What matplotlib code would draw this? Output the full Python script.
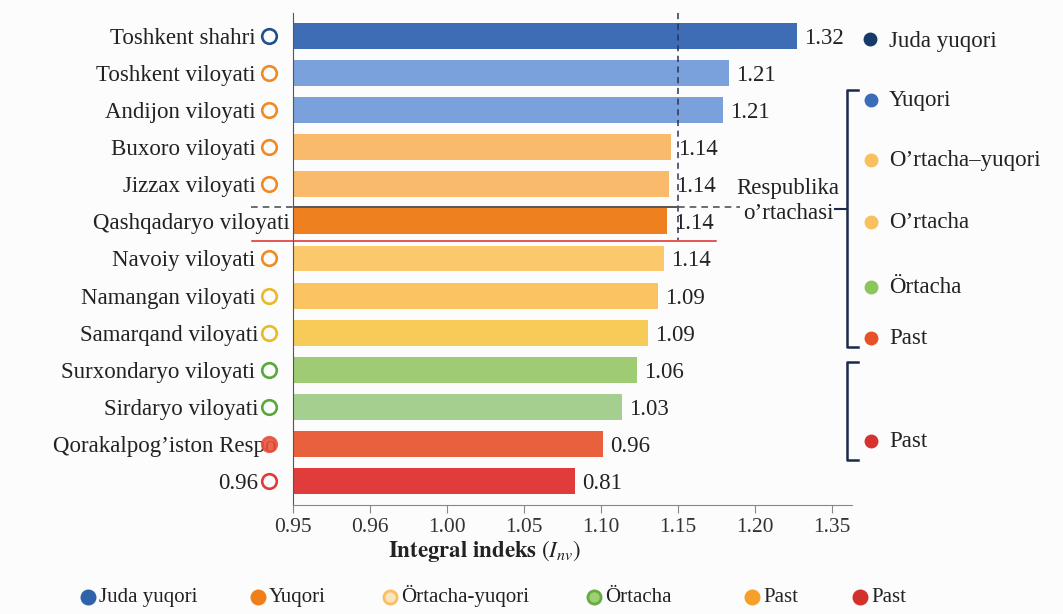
import matplotlib
matplotlib.use("Agg")
import matplotlib.pyplot as plt
from matplotlib.lines import Line2D

plt.rcParams['font.family'] = ['Liberation Serif', 'DejaVu Serif']
plt.rcParams['mathtext.fontset'] = 'stix'

# data
regions = ["Toshkent shahri", "Toshkent viloyati", "Andijon viloyati", "Buxoro viloyati",
           "Jizzax viloyati", "Qashqadaryo viloyati", "Navoiy viloyati", "Namangan viloyati",
           "Samarqand viloyati", "Surxondaryo viloyati", "Sirdaryo viloyati",
           "Qorakalpog\u2019iston Respo", "0.96"]
# bar length in axis units (one unit = one tick step)
bar_len = [6.55, 5.66, 5.58, 4.91, 4.88, 4.86, 4.82, 4.74, 4.61, 4.47, 4.27, 4.03, 3.66]
value_labels = ["1.32", "1.21", "1.21", "1.14", "1.14", "1.14", "1.14", "1.09", "1.09",
                "1.06", "1.03", "0.96", "0.81"]
bar_colors = ["#3f6db5", "#7ba1dc", "#7ba1dc", "#f9bb6b", "#f9bb6b", "#ef801f", "#fcc86c",
              "#fbc460", "#f6cb58", "#9ecb73", "#a5cf8f", "#e8603c", "#e03c3c"]
ring_colors = ["#1f4f8e", "#f08a24", "#f08a24", "#f08a24", "#f08a24", None, "#f08a24",
               "#e8b928", "#e8b928", "#5aa83c", "#5aa83c", "#e8503a", "#e03a3a"]
tick_labels = ["0.95", "0.96", "1.00", "1.05", "1.10", "1.15", "1.20", "1.35"]

side_names = ["Yuqori", "O\u2019rtacha\u2013yuqori", "O\u2019rtacha", "\u00d6rtacha", "Past", "Past"]
side_colors = ["#3b6cb7", "#f9c060", "#f9c060", "#8cc65a", "#e8502a", "#d93030"]
side_y = [100, 160, 222, 287, 338, 441]

legend_names = ["Juda yuqori", "Yuqori", "\u00d6rtacha-yuqori", "\u00d6rtacha", "Past", "Past"]
legend_fill = ["#2f62a8", "#f07f1a", "#fde4bc", "#9cd070", "#f5a02a", "#d4302a"]
legend_edge = ["#2f62a8", "#f07f1a", "#f8c060", "#6aaa44", "#f5a02a", "#d4302a"]
legend_x = [88, 258, 390, 594, 752, 860]

W, H = 1063, 614
fig = plt.figure(figsize=(W / 100, H / 100), dpi=100)
fig.patch.set_facecolor("#fcfcfd")

def px(x, y):
    return x / W, 1 - y / H

ax = fig.add_axes([293 / W, 1 - 505 / H, (852 - 293) / W, (505 - 13) / H])
ax.set_facecolor("none")

n = len(regions)
rows = list(range(n))
ax.barh(rows, bar_len, height=0.7, color=bar_colors, zorder=2)
ax.set_ylim(n - 1 + 0.647, -0.62)
ax.set_xlim(0, 7.26)

fs = 16.5
for i in rows:
    ax.annotate(value_labels[i], (bar_len[i], i), xytext=(5, 0), textcoords="offset points",
                va="center_baseline", ha="left", fontsize=fs, color="#222222", zorder=4)
    if i == 5:
        ax.text(-0.04, i, regions[i], ha="right", va="center_baseline", fontsize=fs,
                color="#222222")
        continue
    xe = -0.21 if i == 11 else (-0.45 if i in (8, 10, 12) else -0.49)
    ax.text(xe, i, regions[i], ha="right", va="center_baseline", fontsize=fs, color="#222222")
    filled = i == 11
    ax.plot([-0.31], [i], marker="o", markersize=10.5, mew=1.9, clip_on=False, zorder=5,
            markeredgecolor=ring_colors[i],
            markerfacecolor=ring_colors[i] if filled else "#fcfcfd", alpha=0.88 if filled else 1)

ax.set_xticks(range(len(tick_labels)))
ax.set_xticklabels(tick_labels, fontsize=15.5, color="#333333")
ax.set_yticks([])
for s in ["top", "right"]:
    ax.spines[s].set_visible(False)
ax.spines["left"].set_color("#555555")
ax.spines["bottom"].set_color("#888888")
ax.tick_params(axis="x", length=6, color="#888888", pad=3)

# republic average lines
ax.plot([5.0, 5.0], [-0.62, 5.5], ls=(0, (4, 3)), color="#2a3550", lw=1.1, zorder=3)
ax.plot([0, 5.0], [4.62, 4.62], color="#555555", lw=1.4, zorder=3)
ax.plot([5.0, 5.8], [4.62, 4.62], ls=(0, (4, 3)), color="#555555", lw=1.2, zorder=3)
ax.plot([-0.55, 0], [4.62, 4.62], ls=(0, (4, 3)), color="#555555", lw=1.2, clip_on=False)
ax.plot([-0.53, 5.49], [5.53, 5.53], color="#e0282a", lw=1.1, clip_on=False, zorder=3)

fig.text(*px(788, 186), "Respublika", ha="center", va="center_baseline", fontsize=fs,
         color="#222222")
fig.text(*px(788, 211), "o\u2019rtachasi", ha="center", va="center_baseline", fontsize=fs,
         color="#222222")
fig.add_artist(Line2D([835 / W, 847 / W], [1 - 209 / H] * 2, color="#1a2a4a", lw=1.5))

# brackets
for top, bot in [(90, 347), (362, 460)]:
    xs = [858 / W, 847 / W, 847 / W, 858 / W]
    ys = [1 - top / H, 1 - top / H, 1 - bot / H, 1 - bot / H]
    fig.add_artist(Line2D(xs, ys, color="#1a2a4a", lw=1.8))

fig.add_artist(Line2D([870 / W], [1 - 39 / H], marker="o", markersize=9, color="#163a6a"))
fig.text(*px(889, 39), "Juda yuqori", ha="left", va="center_baseline", fontsize=fs,
         color="#222222")
for name, c, y in zip(side_names, side_colors, side_y):
    fig.add_artist(Line2D([871 / W], [1 - y / H], marker="o", markersize=9, color=c))
    fig.text(*px(889, y + 6), name, ha="left", va="baseline", fontsize=fs, color="#222222")

fig.text(*px(485, 551), r"$\mathbf{Integral\ indeks}\ (\mathit{I}_{\mathit{nv}})$",
         ha="center", va="center", fontsize=16.5, color="#222222")

# bottom legend
for name, fc, ec, x in zip(legend_names, legend_fill, legend_edge, legend_x):
    fig.add_artist(Line2D([x / W], [1 - 597 / H], marker="o", markersize=9.5, mew=2,
                          markerfacecolor=fc, markeredgecolor=ec))
    fig.text(*px(x + 11, 602), name, ha="left", va="baseline", fontsize=15, color="#222222")

fig.savefig("out.png", dpi=100, facecolor=fig.get_facecolor())
